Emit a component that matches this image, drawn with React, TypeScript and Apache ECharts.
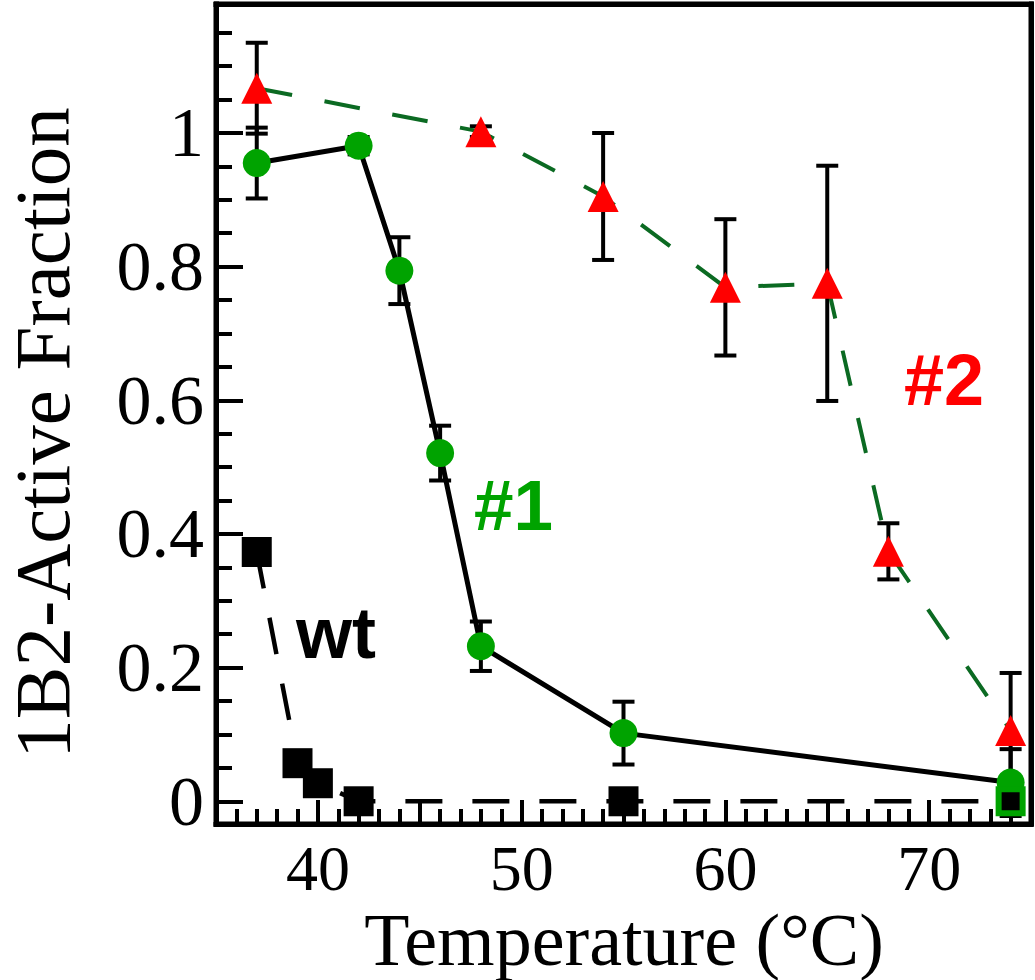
import React, { useEffect, useRef } from "react";
import * as echarts from "echarts";

// ---- data ----
const tempWt = [37, 39, 40, 42, 55, 74];
const fracWt = [0.373, 0.057, 0.027, 0.0, 0.0, 0.0];

const temp1 = [37, 42, 44, 46, 48, 55, 74];
const frac1 = [0.955, 0.981, 0.794, 0.521, 0.232, 0.102, 0.028];
const err1 = [0.053, 0.013, 0.05, 0.041, 0.037, 0.047, 0.05];

const temp2 = [37, 48, 54, 60, 65, 68, 74];
const frac2 = [1.067, 1.002, 0.905, 0.769, 0.775, 0.374, 0.106];
const err2 = [0.068, 0.008, 0.095, 0.102, 0.176, 0.042, 0.086];

const xLabelValues = [40, 50, 60, 70];
const yLabelValues = [0, 0.2, 0.4, 0.6, 0.8, 1];
const yMinorValues = [
  0, 0.05, 0.1, 0.15, 0.2, 0.25, 0.3, 0.35, 0.4, 0.45, 0.5, 0.55, 0.6, 0.65,
  0.7, 0.75, 0.8, 0.85, 0.9, 0.95, 1, 1.05, 1.1, 1.15,
];

const GREEN = "#00a300";
const RED = "#ff0000";
const DKGREEN = "#0b6a22";
const SERIF = "Liberation Serif";
const SANS = "Liberation Sans";

function errorBarRender(params: any, api: any) {
  const x = api.value(0);
  const lo = api.value(1);
  const hi = api.value(2);
  const top = api.coord([x, hi]);
  const bot = api.coord([x, lo]);
  const hw = 11;
  const st = { stroke: "#000", lineWidth: 4 };
  return {
    type: "group",
    children: [
      { type: "line", shape: { x1: top[0], y1: top[1], x2: bot[0], y2: bot[1] }, style: st },
      { type: "line", shape: { x1: top[0] - hw, y1: top[1], x2: top[0] + hw, y2: top[1] }, style: st },
      { type: "line", shape: { x1: bot[0] - hw, y1: bot[1], x2: bot[0] + hw, y2: bot[1] }, style: st },
    ],
  };
}

const frameLine = { show: true, onZero: false, lineStyle: { color: "#000", width: 5, cap: "square" } };
const noLine = { show: false, onZero: false };

export default function App() {
  const ref = useRef<HTMLDivElement>(null);
  useEffect(() => {
    if (!ref.current) return;
    const chart = echarts.init(ref.current, null, { renderer: "svg" });
    const yMin = -0.034;
    const yMax = 1.193;
    const option: any = {
      animation: false,
      grid: {
        left: 216,
        top: 4,
        right: 4,
        bottom: 156,
        show: true,
        borderColor: "#000",
        borderWidth: 5,
        containLabel: false,
      },
      xAxis: [
        {
          type: "value",
          min: 35,
          max: 75,
          interval: 5,
          position: "bottom",
          axisLine: frameLine,
          splitLine: { show: false },
          axisTick: { show: true, inside: true, length: 24, lineStyle: { color: "#000", width: 4 } },
          axisLabel: {
            show: true,
            customValues: xLabelValues,
            margin: 12,
            color: "#000",
            fontFamily: SERIF,
            fontSize: 64,
          },
        },
        {
          type: "value",
          min: 35,
          max: 75,
          interval: 1,
          position: "bottom",
          offset: 0,
          axisLine: noLine,
          splitLine: { show: false },
          axisTick: { show: true, inside: true, length: 15, lineStyle: { color: "#000", width: 4 } },
          axisLabel: { show: false },
        },
        {
          type: "value",
          min: 35,
          max: 75,
          position: "top",
          offset: 0,
          axisLine: frameLine,
          splitLine: { show: false },
          axisTick: { show: false },
          axisLabel: { show: false },
        },
      ],
      yAxis: [
        {
          type: "value",
          min: yMin,
          max: yMax,
          position: "left",
          axisLine: frameLine,
          splitLine: { show: false },
          axisTick: {
            show: true,
            inside: true,
            length: 27,
            customValues: yLabelValues,
            lineStyle: { color: "#000", width: 4 },
          },
          axisLabel: {
            show: true,
            customValues: yLabelValues,
            margin: 12,
            color: "#000",
            fontFamily: SERIF,
            fontSize: 70,
            formatter: (v: number) => String(Math.round(v * 10) / 10),
          },
        },
        {
          type: "value",
          min: yMin,
          max: yMax,
          position: "left",
          offset: 0,
          axisLine: noLine,
          splitLine: { show: false },
          axisTick: {
            show: true,
            inside: true,
            length: 16,
            customValues: yMinorValues,
            lineStyle: { color: "#000", width: 4 },
          },
          axisLabel: { show: false },
        },
        {
          type: "value",
          min: yMin,
          max: yMax,
          position: "right",
          offset: 0,
          axisLine: frameLine,
          splitLine: { show: false },
          axisTick: { show: false },
          axisLabel: { show: false },
        },
      ],
      series: [
        {
          type: "custom",
          name: "err2",
          xAxisIndex: 0,
          yAxisIndex: 0,
          renderItem: errorBarRender,
          encode: { x: 0, y: [1, 2] },
          data: temp2.map((t, i) => [t, frac2[i] - err2[i], frac2[i] + err2[i]]),
          z: 1,
        },
        {
          type: "custom",
          name: "err1",
          xAxisIndex: 0,
          yAxisIndex: 0,
          renderItem: errorBarRender,
          encode: { x: 0, y: [1, 2] },
          data: temp1.map((t, i) => [t, frac1[i] - err1[i], frac1[i] + err1[i]]),
          z: 1,
        },
        {
          type: "line",
          name: "#2",
          xAxisIndex: 0,
          yAxisIndex: 0,
          data: temp2.map((t, i) => [t, frac2[i]]),
          symbol: "triangle",
          symbolSize: 31,
          itemStyle: { color: RED },
          lineStyle: { color: DKGREEN, width: 4, type: [36, 33] },
          z: 3,
        },
        {
          type: "line",
          name: "#1",
          xAxisIndex: 0,
          yAxisIndex: 0,
          data: temp1.map((t, i) => [t, frac1[i]]),
          symbol: "circle",
          symbolSize: 28,
          itemStyle: { color: GREEN },
          lineStyle: { color: "#000", width: 5 },
          z: 4,
        },
        {
          type: "line",
          name: "wt",
          xAxisIndex: 0,
          yAxisIndex: 0,
          data: tempWt.map((t, i) =>
            i === tempWt.length - 1
              ? {
                  value: [t, fracWt[i]],
                  symbolSize: 24,
                  itemStyle: { color: "#000", borderColor: GREEN, borderWidth: 6 },
                }
              : [t, fracWt[i]]
          ),
          symbol: "rect",
          symbolSize: 30,
          itemStyle: { color: "#000" },
          lineStyle: { color: "#000", width: 4.5, type: [37, 30] },
          z: 5,
        },
      ],
      graphic: [
        {
          type: "text",
          x: 42,
          y: 433,
          rotation: Math.PI / 2,
          style: {
            text: "1B2-Active Fraction",
            font: `79px '${SERIF}'`,
            fill: "#000",
            align: "center",
            verticalAlign: "middle",
          },
        },
        {
          type: "text",
          x: 624,
          y: 940,
          style: {
            text: "Temperature (°C)",
            font: `74px '${SERIF}'`,
            fill: "#000",
            align: "center",
            verticalAlign: "middle",
          },
        },
        {
          type: "text",
          x: 904,
          y: 380,
          style: {
            text: "#2",
            font: `bold 72px '${SANS}'`,
            fill: RED,
            align: "left",
            verticalAlign: "middle",
          },
        },
        {
          type: "text",
          x: 474,
          y: 505,
          style: {
            text: "#1",
            font: `bold 71px '${SANS}'`,
            fill: GREEN,
            align: "left",
            verticalAlign: "middle",
          },
        },
        {
          type: "text",
          x: 296,
          y: 633,
          style: {
            text: "wt",
            font: `bold 72px '${SANS}'`,
            fill: "#000",
            align: "left",
            verticalAlign: "middle",
          },
        },
      ],
    };
    chart.setOption(option);
    return () => chart.dispose();
  }, []);
  return (
    <div
      ref={ref}
      style={{ position: "fixed", left: 0, top: 0, width: 1035, height: 980 }}
    />
  );
}
